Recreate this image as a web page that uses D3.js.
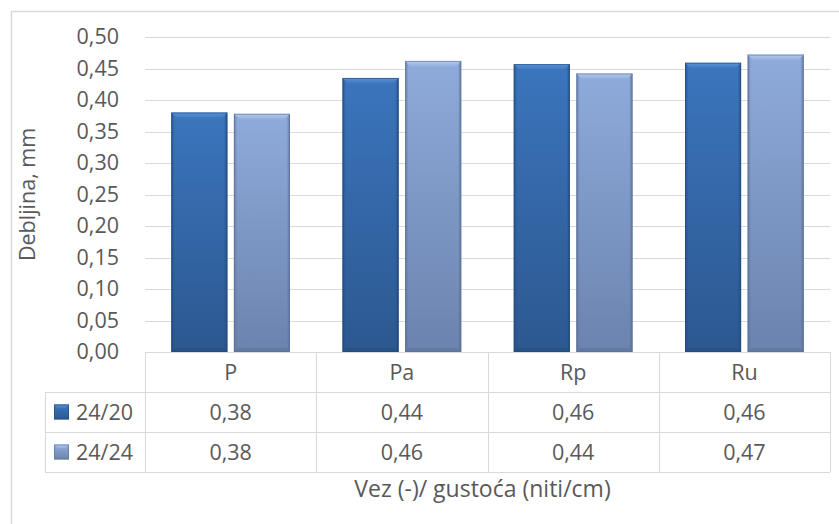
<!DOCTYPE html>
<html><head><meta charset="utf-8">
<script src="https://cdn.jsdelivr.net/npm/d3@7"></script>
<style>body{margin:0;background:#fff;} svg{display:block;} text{font-family:"Open Sans",sans-serif;fill:#595959;}</style>
</head><body>
<svg id="c" width="839" height="524"></svg>
<script>
const categories = ["P", "Pa", "Rp", "Ru"];
const seriesNames = ["24/20", "24/24"];
const values2420 = [0.380, 0.435, 0.457, 0.459];
const values2424 = [0.378, 0.462, 0.442, 0.472];
const tableLabels2420 = ["0,38", "0,44", "0,46", "0,46"];
const tableLabels2424 = ["0,38", "0,46", "0,44", "0,47"];
const yTicks = [0, 0.05, 0.10, 0.15, 0.20, 0.25, 0.30, 0.35, 0.40, 0.45, 0.50];
const yTitle = "Debljina, mm";
const xTitle = "Vez (-)/ gustoća (niti/cm)";

const series = [
  {name: seriesNames[0], values: values2420, labels: tableLabels2420, top: "#3b75bd", bot: "#2c5890", edge: "#234a7c", hi: "#5d93d6"},
  {name: seriesNames[1], values: values2424, labels: tableLabels2424, top: "#8fabdb", bot: "#6b83ae", edge: "#5a6f96", hi: "#b3cbf0"}
];

const FS = "21.5px";
const svg = d3.select("#c");
const W = 839, H = 524;
const pL = 145, pR = 830, pT = 37, pB = 352;
const rowH = 40;
const legendLeft = 45;

svg.append("path").attr("d", `M11.5,${H} V11.5 H${W}`).attr("fill","none").attr("stroke","#d9d9d9").attr("stroke-width",1.5);

const x = d3.scaleBand().domain(categories).range([pL, pR]).padding(0);
const y = d3.scaleLinear().domain([0, 0.5]).range([pB, pT]);
const bw = x.bandwidth();
const x1 = d3.scaleBand().domain(seriesNames).range([bw*0.1535, bw*0.8465]).paddingInner(0.105);

svg.append("g").selectAll("line").data(yTicks.slice(1)).join("line")
  .attr("x1", pL).attr("x2", pR)
  .attr("y1", d => Math.round(y(d))+0.5).attr("y2", d => Math.round(y(d))+0.5)
  .attr("stroke", "#d9d9d9").attr("stroke-width", 1);

const yAxis = d3.axisLeft(y).tickValues(yTicks).tickSize(0).tickPadding(0)
  .tickFormat(d => d3.format(".2f")(d).replace(".", ","));
const ya = svg.append("g").attr("transform", `translate(119,0)`).call(yAxis);
ya.select(".domain").remove();
ya.selectAll("text").style("font-size",FS).style("font-family","'Open Sans',sans-serif").attr("fill","#595959");

svg.append("text").attr("transform", `translate(27,${(pT+pB)/2}) rotate(-90)`)
  .attr("text-anchor","middle").attr("dy","0.35em").style("font-size",FS).text(yTitle);

const defs = svg.append("defs");
series.forEach((s,i) => {
  const g = defs.append("linearGradient").attr("id","g"+i).attr("x1",0).attr("y1",0).attr("x2",0).attr("y2",1);
  g.append("stop").attr("offset","0%").attr("stop-color", s.top);
  g.append("stop").attr("offset","100%").attr("stop-color", s.bot);
  const h = defs.append("linearGradient").attr("id","h"+i).attr("x1",0).attr("y1",0).attr("x2",1).attr("y2",0);
  h.append("stop").attr("offset","0%").attr("stop-color", s.edge).attr("stop-opacity",0.7);
  h.append("stop").attr("offset","6%").attr("stop-color", s.edge).attr("stop-opacity",0);
  h.append("stop").attr("offset","94%").attr("stop-color", s.edge).attr("stop-opacity",0);
  h.append("stop").attr("offset","100%").attr("stop-color", s.edge).attr("stop-opacity",0.8);
  const t = defs.append("linearGradient").attr("id","t"+i).attr("x1",0).attr("y1",0).attr("x2",0).attr("y2",1);
  t.append("stop").attr("offset","0%").attr("stop-color", s.hi);
  t.append("stop").attr("offset","100%").attr("stop-color", s.top);
});

const bev = 6;
series.forEach((s,i) => {
  const g = svg.append("g");
  const data = categories.map((c,j) => ({c, v: s.values[j]}));
  const bx = d => x(d.c) + x1(s.name);
  const w = x1.bandwidth();
  g.selectAll("rect.main").data(data).join("rect").attr("class","main")
    .attr("x", bx).attr("y", d => y(d.v)).attr("width", w).attr("height", d => y(0)-y(d.v))
    .attr("fill", `url(#g${i})`);
  g.selectAll("rect.side").data(data).join("rect").attr("class","side")
    .attr("x", bx).attr("y", d => y(d.v)).attr("width", w).attr("height", d => y(0)-y(d.v))
    .attr("fill", `url(#h${i})`);
  g.selectAll("path.topb").data(data).join("path").attr("class","topb")
    .attr("d", d => { const x0 = bx(d), y0 = y(d.v); return `M${x0},${y0} H${x0+w} L${x0+w-bev},${y0+bev} H${x0+bev} Z`; })
    .attr("fill", `url(#t${i})`);
  g.selectAll("path.botb").data(data).join("path").attr("class","botb")
    .attr("d", d => { const x0 = bx(d), y0 = y(0); return `M${x0},${y0} H${x0+w} L${x0+w-4},${y0-4} H${x0+4} Z`; })
    .attr("fill", s.edge).attr("opacity",0.5);
  g.selectAll("rect.outline").data(data).join("rect").attr("class","outline")
    .attr("x", d => bx(d)+0.5).attr("y", d => y(d.v)+0.5).attr("width", w-1).attr("height", d => y(0)-y(d.v)-1)
    .attr("fill","none").attr("stroke", s.edge).attr("stroke-opacity",0.6);
});

const tg = svg.append("g");
const lc = "#d9d9d9";
tg.append("line").attr("x1", pL).attr("x2", pR).attr("y1", pB+0.5).attr("y2", pB+0.5).attr("stroke", lc);
[1,2,3].forEach(r => tg.append("line").attr("x1", legendLeft).attr("x2", pR)
  .attr("y1", pB + r*rowH + 0.5).attr("y2", pB + r*rowH + 0.5).attr("stroke", lc));
const vx = categories.map(c => x(c)).concat([pR]);
vx.forEach(vxx => tg.append("line").attr("x1", Math.round(vxx)+0.5).attr("x2", Math.round(vxx)+0.5)
  .attr("y1", pB).attr("y2", pB + 3*rowH).attr("stroke", lc));
tg.append("line").attr("x1", legendLeft+0.5).attr("x2", legendLeft+0.5).attr("y1", pB+rowH).attr("y2", pB+3*rowH).attr("stroke", lc);

tg.selectAll("text.cat").data(categories).join("text").attr("class","cat")
  .attr("x", d => x(d)+bw/2).attr("y", pB + rowH/2).attr("dy","0.35em")
  .attr("text-anchor","middle").style("font-size",FS).text(d => d);
series.forEach((s,i) => {
  const ry = pB + (i+1)*rowH + rowH/2;
  tg.selectAll("text.v"+i).data(categories).join("text").attr("class","v"+i)
    .attr("x", d => x(d)+bw/2).attr("y", ry).attr("dy","0.35em")
    .attr("text-anchor","middle").style("font-size",FS).text((d,j) => s.labels[j]);
  const kx = 54, ky = ry - 7.5, ks = 15;
  tg.append("rect").attr("x", kx).attr("y", ky).attr("width", ks).attr("height", ks).attr("fill", `url(#g${i})`);
  tg.append("path").attr("d", `M${kx},${ky} H${kx+ks} L${kx+ks-4},${ky+4} H${kx+4} Z`).attr("fill", `url(#t${i})`);
  tg.append("rect").attr("x", kx+0.5).attr("y", ky+0.5).attr("width", ks-1).attr("height", ks-1).attr("fill","none").attr("stroke", s.edge).attr("stroke-opacity",0.6);
  tg.append("text").attr("x", 76).attr("y", ry).attr("dy","0.35em").style("font-size",FS).text(s.name);
});

svg.append("text").attr("x", 482.5).attr("y", 489).attr("dy","0.35em").attr("text-anchor","middle")
  .style("font-size","23px").text(xTitle);
</script>
</body></html>
